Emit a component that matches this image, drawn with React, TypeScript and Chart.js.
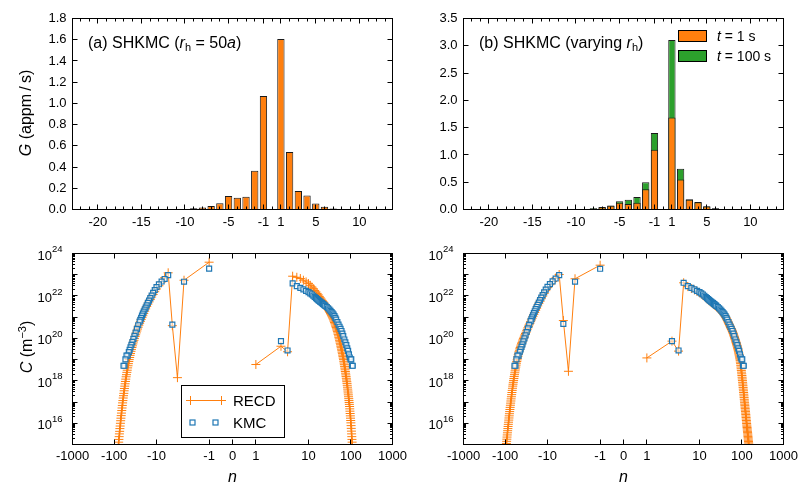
import React, { useEffect, useRef } from 'react';
import { Chart, registerables, LinearScale } from 'chart.js';

Chart.register(...registerables);

const W = 803;
const H = 487;
const FONT = '"Liberation Sans", Arial, Helvetica, sans-serif';
const ORANGE = '#ff7f0e';
const GREEN = '#2ca02c';
const BLUE = '#1f77b4';
const EDGE = '#1a1a1a';

// ================= DATA =================
// --- top panels: generation rate G (appm/s) vs cluster size n
const topXTicks = [-20, -15, -10, -5, -1, 1, 5, 10];
const aYTicks = [0, 0.2, 0.4, 0.6, 0.8, 1.0, 1.2, 1.4, 1.6, 1.8];
const bYTicks = [0, 0.5, 1.0, 1.5, 2.0, 2.5, 3.0, 3.5];

const aBarN = [-11, -10, -9, -8, -7, -6, -5, -4, -3, -2, -1, 1, 2, 3, 4, 5, 6, 7, 8, 9];
const aBarG = [0.002, 0.005, 0.011, 0.02, 0.034, 0.06, 0.128, 0.11, 0.119, 0.366, 1.07, 1.606, 0.542, 0.175, 0.131, 0.056, 0.025, 0.01, 0.004, 0.002];

const bBarN = [-10, -9, -8, -7, -6, -5, -4, -3, -2, -1, 1, 2, 3, 4, 5, 6, 7];
const bBarG1s = [0.004, 0.009, 0.02, 0.04, 0.067, 0.125, 0.103, 0.122, 0.371, 1.096, 1.686, 0.548, 0.18, 0.134, 0.055, 0.02, 0.008];
const bBarG100s = [0.005, 0.011, 0.024, 0.045, 0.073, 0.15, 0.177, 0.231, 0.499, 1.4, 3.104, 0.749, 0.19, 0.138, 0.058, 0.022, 0.009];

// --- bottom panels: concentration C (m^-3), stored as log10(C)
const symTicks = [-1000, -100, -10, -1, 0, 1, 10, 100, 1000];
const logLabelExps = [16, 18, 20, 22, 24];

// (a) RECD: n = -80 ... -6 (consecutive)
const recdA_negStart = -80;
const recdA_neg = [
  14.85, 14.98, 15.11, 15.24, 15.37, 15.5, 15.62, 15.75, 15.87, 16.0,
  16.12, 16.24, 16.36, 16.48, 16.6, 16.72, 16.84, 16.96, 17.07, 17.19,
  17.3, 17.41, 17.53, 17.64, 17.75, 17.86, 17.97, 18.08, 18.19, 18.29,
  18.4, 18.5, 18.61, 18.71, 18.81, 18.91, 19.0, 19.1, 19.2, 19.29,
  19.39, 19.48, 19.57, 19.65, 19.74, 19.83, 19.91, 20.0, 20.09, 20.17,
  20.26, 20.35, 20.44, 20.53, 20.62, 20.71, 20.8, 20.89, 20.98, 21.07,
  21.17, 21.28, 21.39, 21.5, 21.61, 21.72, 21.83, 21.95, 22.07, 22.2,
  22.33, 22.48, 22.66, 22.86, 23.09,
];
const recdA_coreN = [-5, -4, -3, -1, 0, 1, 3, 4];
const recdA_core = [20.6, 18.15, 22.74, 23.59, null, 18.77, 19.63, 19.37];
// n = 5 ... 108
const recdA_posStart = 5;
const recdA_pos = [
  22.93, 22.88, 22.82, 22.74, 22.66, 22.58, 22.5, 22.42, 22.34, 22.26,
  22.19, 22.12, 22.05, 21.98, 21.91, 21.85, 21.79, 21.73, 21.67, 21.62,
  21.57, 21.52, 21.47, 21.42, 21.37, 21.32, 21.27, 21.22, 21.17, 21.12,
  21.07, 21.02, 20.97, 20.92, 20.87, 20.81, 20.75, 20.69, 20.63, 20.57,
  20.51, 20.45, 20.39, 20.33, 20.26, 20.19, 20.12, 20.05, 19.98, 19.91,
  19.84, 19.77, 19.7, 19.63, 19.56, 19.49, 19.42, 19.35, 19.28, 19.21,
  19.14, 19.07, 19.0, 18.92, 18.84, 18.76, 18.68, 18.6, 18.52, 18.44,
  18.36, 18.28, 18.2, 18.12, 18.04, 17.96, 17.88, 17.79, 17.7, 17.61,
  17.52, 17.43, 17.34, 17.25, 17.16, 17.07, 16.98, 16.89, 16.79, 16.68,
  16.57, 16.46, 16.35, 16.24, 16.13, 16.02, 15.89, 15.76, 15.63, 15.5,
  15.37, 15.24, 15.11, 14.98,
];

// (a) KMC
const kmcA_negN = [
  -6, -7, -8, -9, -10, -11, -12, -13, -14, -15, -16, -17, -18, -19, -20,
  -21, -22, -23, -24, -25, -27, -29, -31, -33, -35, -37, -39, -41, -43, -45,
  -48, -51, -54, -57, -60,
];
const kmcA_negLog = [
  22.98, 22.8, 22.68, 22.55, 22.42, 22.28, 22.15, 22.02, 21.9, 21.78, 21.67, 21.56, 21.45, 21.36, 21.26,
  21.17, 21.07, 20.97, 20.87, 20.79, 20.62, 20.45, 20.27, 20.12, 19.98, 19.83, 19.7, 19.58, 19.46, 19.35,
  19.19, 19.19, 19.01, 18.71, 18.71,
];
const kmcA_coreN = [-5, -3, -1, 3, 4];
const kmcA_core = [20.65, 22.67, 23.29, 19.87, 19.43];
const kmcA_posN = [
  5, 6, 7, 8, 9, 10, 11, 12, 13, 14, 15, 16, 17, 18, 19, 20, 21, 22, 23, 24, 25,
  27, 29, 31, 33, 35, 37, 39, 41, 43, 45, 48, 51, 54, 57, 60, 63, 66, 70, 74,
  78, 82, 86, 90, 94, 98, 102, 106, 111,
];
const kmcA_posLog = [
  22.59, 22.46, 22.38, 22.31, 22.24, 22.18, 22.12, 22.07, 22.01, 21.95, 21.9, 21.85, 21.8, 21.76, 21.72, 21.69, 21.66, 21.62, 21.59, 21.56, 21.53,
  21.48, 21.42, 21.36, 21.3, 21.24, 21.18, 21.12, 21.05, 20.97, 20.89, 20.77, 20.65, 20.55, 20.45, 20.35, 20.23, 20.11, 19.95, 19.81,
  19.68, 19.53, 19.41, 19.25, 19.1, 19.01, 19.01, 18.71, 18.71,
];

// (b) RECD: n = -95 ... -6
const recdB_negStart = -95;
const recdB_neg = [
  14.85, 14.95, 15.05, 15.15, 15.25, 15.35, 15.45, 15.55, 15.65, 15.75,
  15.85, 15.95, 16.05, 16.15, 16.25, 16.35, 16.45, 16.55, 16.65, 16.75,
  16.85, 16.95, 17.05, 17.15, 17.25, 17.35, 17.45, 17.55, 17.65, 17.75,
  17.84, 17.93, 18.02, 18.11, 18.2, 18.29, 18.38, 18.47, 18.56, 18.65,
  18.74, 18.83, 18.91, 18.99, 19.07, 19.15, 19.23, 19.3, 19.37, 19.44,
  19.51, 19.57, 19.63, 19.69, 19.75, 19.81, 19.87, 19.93, 19.99, 20.05,
  20.11, 20.17, 20.23, 20.29, 20.36, 20.43, 20.5, 20.57, 20.64, 20.71,
  20.79, 20.87, 20.95, 21.04, 21.13, 21.22, 21.32, 21.42, 21.53, 21.64,
  21.75, 21.87, 21.99, 22.12, 22.25, 22.39, 22.53, 22.68, 22.84, 23.01,
];
const recdB_coreN = [-5, -4, -3, -1, 0, 1, 3, 4];
const recdB_core = [20.84, 18.45, 22.81, 23.45, null, 19.08, 19.87, 19.4];
// n = 5 ... 148
const recdB_posStart = 5;
const recdB_pos = [
  22.62, 22.44, 22.35, 22.28, 22.21, 22.15, 22.09, 22.04, 21.98, 21.92,
  21.87, 21.82, 21.77, 21.73, 21.69, 21.66, 21.63, 21.59, 21.56, 21.53,
  21.5, 21.47, 21.45, 21.42, 21.39, 21.36, 21.33, 21.3, 21.27, 21.24,
  21.21, 21.18, 21.15, 21.12, 21.09, 21.06, 21.02, 20.98, 20.94, 20.9,
  20.86, 20.82, 20.78, 20.74, 20.7, 20.66, 20.62, 20.59, 20.55, 20.52,
  20.48, 20.45, 20.42, 20.39, 20.35, 20.32, 20.28, 20.24, 20.2, 20.16,
  20.12, 20.08, 20.04, 20.0, 19.96, 19.92, 19.88, 19.84, 19.8, 19.76,
  19.72, 19.68, 19.64, 19.6, 19.56, 19.52, 19.47, 19.42, 19.37, 19.32,
  19.27, 19.22, 19.17, 19.12, 19.07, 19.02, 18.95, 18.88, 18.81, 18.73,
  18.65, 18.57, 18.49, 18.41, 18.33, 18.25, 18.17, 18.09, 18.01, 17.93,
  17.85, 17.77, 17.69, 17.61, 17.53, 17.45, 17.37, 17.29, 17.21, 17.13,
  17.05, 16.97, 16.9, 16.83, 16.76, 16.69, 16.62, 16.55, 16.48, 16.41,
  16.34, 16.27, 16.2, 16.13, 16.06, 15.99, 15.92, 15.86, 15.8, 15.74,
  15.68, 15.62, 15.56, 15.5, 15.44, 15.38, 15.32, 15.26, 15.2, 15.14,
  15.08, 15.02, 14.96, 14.9,
];

// (b) KMC
const kmcB_negN = [
  -6, -7, -8, -9, -10, -11, -12, -13, -14, -15, -16, -17, -18, -19, -20,
  -21, -22, -23, -24, -25, -27, -29, -31, -33, -35, -37, -39, -41, -43, -45,
  -48, -51, -54, -57, -60,
];
const kmcB_negLog = [
  22.98, 22.82, 22.69, 22.56, 22.43, 22.3, 22.17, 22.04, 21.92, 21.8, 21.69, 21.58, 21.48, 21.38, 21.28,
  21.19, 21.09, 20.99, 20.9, 20.81, 20.64, 20.47, 20.3, 20.14, 20.0, 19.86, 19.72, 19.6, 19.48, 19.37,
  19.19, 19.19, 19.01, 18.71, 18.71,
];
const kmcB_coreN = [-5, -3, -1, 3, 4];
const kmcB_core = [20.68, 22.67, 23.28, 19.87, 19.43];
const kmcB_posN = [
  5, 6, 7, 8, 9, 10, 11, 12, 13, 14, 15, 16, 17, 18, 19, 20, 21, 22, 23, 24, 25,
  27, 29, 31, 33, 35, 37, 39, 41, 43, 45, 48, 51, 54, 57, 60, 63, 66, 70, 74,
  78, 82, 86, 90, 94, 98, 102, 106, 111,
];
const kmcB_posLog = [
  22.62, 22.46, 22.38, 22.31, 22.24, 22.18, 22.12, 22.07, 22.01, 21.95, 21.9, 21.85, 21.8, 21.76, 21.72, 21.69, 21.66, 21.62, 21.59, 21.56, 21.53,
  21.48, 21.42, 21.36, 21.3, 21.24, 21.18, 21.12, 21.05, 20.97, 20.89, 20.77, 20.65, 20.55, 20.45, 20.35, 20.23, 20.11, 19.95, 19.81,
  19.68, 19.53, 19.41, 19.25, 19.1, 19.01, 19.01, 18.71, 18.71,
];

// ================= HELPERS =================
function toPts(ns: number[], logs: (number | null)[]) {
  return ns.map((n, i) => ({ x: n, y: logs[i] === null ? null : Math.pow(10, logs[i] as number) }));
}
function runPts(start: number, logs: number[]) {
  return logs.map((v, i) => ({ x: start + i, y: Math.pow(10, v) }));
}
function barPts(ns: number[], vals: number[]) {
  return ns.map((n, i) => ({ x: n, y: vals[i] }));
}

// piecewise log axis used by the bottom panels (|n| anchors -> fraction of half width)
const SYM_ABS = [0, 1, 10, 100, 1000];
const SYM_FR = [0, 0.146, 0.475, 0.74, 1];
function symT(v: number): number {
  const a = Math.abs(v);
  const s = v < 0 ? -1 : 1;
  if (a <= 1) return s * a * SYM_FR[1];
  if (a >= 1000) return s * (1 + (Math.log10(a) - 3) * 0.26);
  for (let i = 1; i < 4; i++) {
    if (a <= SYM_ABS[i + 1]) {
      const f = Math.log10(a) - (i - 1);
      return s * (SYM_FR[i] + f * (SYM_FR[i + 1] - SYM_FR[i]));
    }
  }
  return s;
}

class SymScale extends (LinearScale as any) {
  static id = 'symx';
  determineDataLimits() {
    const o: any = (this as any).options;
    (this as any).min = symT(o.min ?? -1000);
    (this as any).max = symT(o.max ?? 1000);
  }
  buildTicks() {
    return symTicks.map((v) => ({ value: v }));
  }
  getPixelForValue(value: any) {
    if (value === null || value === undefined || isNaN(value)) return NaN;
    const self: any = this;
    return self.getPixelForDecimal((symT(value) - self.min) / (self.max - self.min));
  }
  getValueForPixel() {
    return 0;
  }
}
Chart.register(SymScale as any);

const YW = 60;
const XH = 30;

type Area = { l: number; r: number; t: number; b: number };
const AREA_TL: Area = { l: 72.5, r: 392.5, t: 18.5, b: 209.5 };
const AREA_TR: Area = { l: 463.5, r: 783.5, t: 18.5, b: 209.5 };
const AREA_BL: Area = { l: 72.5, r: 392.5, t: 253.5, b: 444.5 };
const AREA_BR: Area = { l: 463.5, r: 783.5, t: 253.5, b: 444.5 };

function layoutFor(a: Area) {
  return {
    padding: { left: a.l - YW, top: a.t, right: W - a.r, bottom: H - a.b - XH },
    autoPadding: false,
  };
}

function fontStr(size: number, italic?: boolean) {
  return `${italic ? 'italic ' : ''}${size}px ${FONT}`;
}
type Part = { t: string; it?: boolean; s?: number; dy?: number };
function richWidth(ctx: CanvasRenderingContext2D, parts: Part[], base: number) {
  let w = 0;
  for (const p of parts) {
    ctx.font = fontStr(p.s ?? base, p.it);
    w += ctx.measureText(p.t).width;
  }
  return w;
}
function drawRich(ctx: CanvasRenderingContext2D, parts: Part[], x: number, y: number, base: number, align: string) {
  const w = richWidth(ctx, parts, base);
  let cx = align === 'center' ? x - w / 2 : align === 'right' ? x - w : x;
  ctx.textAlign = 'left';
  ctx.textBaseline = 'alphabetic';
  for (const p of parts) {
    ctx.font = fontStr(p.s ?? base, p.it);
    ctx.fillText(p.t, cx, y + (p.dy ?? 0));
    cx += ctx.measureText(p.t).width;
  }
}
function drawRichRot(ctx: CanvasRenderingContext2D, parts: Part[], cx: number, cy: number, base: number) {
  ctx.save();
  ctx.translate(cx, cy);
  ctx.rotate(-Math.PI / 2);
  drawRich(ctx, parts, 0, 0, base, 'center');
  ctx.restore();
}

function tickX(ctx: CanvasRenderingContext2D, a: any, px: number, len: number) {
  const x = Math.round(px - 0.5) + 0.5;
  ctx.moveTo(x, a.bottom);
  ctx.lineTo(x, a.bottom - len);
  ctx.moveTo(x, a.top);
  ctx.lineTo(x, a.top + len);
}
function tickY(ctx: CanvasRenderingContext2D, a: any, py: number, len: number) {
  const y = Math.round(py - 0.5) + 0.5;
  ctx.moveTo(a.left, y);
  ctx.lineTo(a.left + len, y);
  ctx.moveTo(a.right, y);
  ctx.lineTo(a.right - len, y);
}

function axisCommon() {
  return {
    grid: { display: false, drawTicks: false },
    border: { display: false },
  };
}

// ================= PANEL CONFIGS =================
function barConfig(panel: 'a' | 'b') {
  const area = panel === 'a' ? AREA_TL : AREA_TR;
  const yTicks = panel === 'a' ? aYTicks : bYTicks;
  const yMax = panel === 'a' ? 1.8 : 3.5;
  const datasets: any[] =
    panel === 'a'
      ? [
          {
            label: 'G',
            data: barPts(aBarN, aBarG),
            backgroundColor: ORANGE,
            borderColor: EDGE,
            borderWidth: 1,
          },
        ]
      : [
          {
            label: 't = 1 s',
            data: barPts(bBarN, bBarG1s),
            backgroundColor: ORANGE,
            borderColor: EDGE,
            borderWidth: 1,
          },
          {
            label: 't = 100 s',
            data: barPts(bBarN, bBarG100s),
            backgroundColor: GREEN,
            borderColor: EDGE,
            borderWidth: 1,
          },
        ];
  datasets.forEach((d) => {
    d.barPercentage = 0.84;
    d.categoryPercentage = 1;
    d.grouped = false;
  });

  const decor = {
    id: 'decor',
    afterDraw(chart: any) {
      const ctx: CanvasRenderingContext2D = chart.ctx;
      const a = chart.chartArea;
      const xs = chart.scales.x;
      const ys = chart.scales.y;
      ctx.save();
      ctx.strokeStyle = '#000';
      ctx.lineWidth = 1;
      ctx.beginPath();
      for (let n = -22; n <= 13; n++) {
        const major = topXTicks.indexOf(n) >= 0;
        tickX(ctx, a, xs.getPixelForValue(n), major ? 5 : 3);
      }
      for (const v of yTicks) tickY(ctx, a, ys.getPixelForValue(v), 5);
      ctx.stroke();
      ctx.strokeRect(a.left, a.top, a.right - a.left, a.bottom - a.top);
      ctx.fillStyle = '#000';
      if (panel === 'a') {
        drawRich(ctx, [{ t: '(a) SHKMC (' }, { t: 'r', it: true }, { t: 'h', s: 11, dy: 3 }, { t: ' = 50' }, { t: 'a', it: true }, { t: ')' }], 88, 48, 16, 'left');
        drawRichRot(ctx, [{ t: 'G', it: true }, { t: ' (appm\u2009/\u2009s)' }], 31, 113, 16);
      } else {
        drawRich(ctx, [{ t: '(b) SHKMC (varying ' }, { t: 'r', it: true }, { t: 'h', s: 11, dy: 3 }, { t: ')' }], 479, 48, 16, 'left');
        // legend
        ctx.fillStyle = ORANGE;
        ctx.fillRect(678.5, 30.5, 28, 11);
        ctx.strokeRect(678.5, 30.5, 28, 11);
        ctx.fillStyle = GREEN;
        ctx.fillRect(678.5, 50.5, 28, 11);
        ctx.strokeRect(678.5, 50.5, 28, 11);
        ctx.fillStyle = '#000';
        drawRich(ctx, [{ t: 't', it: true }, { t: ' = 1 s' }], 717, 41, 14, 'left');
        drawRich(ctx, [{ t: 't', it: true }, { t: ' = 100 s' }], 717, 61, 14, 'left');
      }
      ctx.restore();
    },
  };

  return {
    type: 'bar',
    data: { datasets },
    options: {
      responsive: false,
      animation: false,
      devicePixelRatio: 1,
      layout: layoutFor(area),
      plugins: { legend: { display: false }, tooltip: { enabled: false } },
      scales: {
        x: {
          type: 'linear',
          min: -22.9,
          max: 13.8,
          offset: false,
          afterBuildTicks: (s: any) => {
            s.ticks = topXTicks.map((v) => ({ value: v }));
          },
          afterFit: (s: any) => {
            s.height = XH;
          },
          ...axisCommon(),
          ticks: {
            autoSkip: false,
            maxRotation: 0,
            padding: 5,
            color: '#000',
            font: { family: FONT, size: 13 },
            callback: (v: any) => String(v),
          },
        },
        y: {
          type: 'linear',
          min: 0,
          max: yMax,
          afterBuildTicks: (s: any) => {
            s.ticks = yTicks.map((v) => ({ value: v }));
          },
          afterFit: (s: any) => {
            s.width = YW;
          },
          ...axisCommon(),
          ticks: {
            padding: 6,
            color: '#000',
            font: { family: FONT, size: 13 },
            callback: (v: any) => Number(v).toFixed(1),
          },
        },
      },
    },
    plugins: [decor],
  };
}

function logConfig(panel: 'a' | 'b') {
  const area = panel === 'a' ? AREA_BL : AREA_BR;
  const recd =
    panel === 'a'
      ? [...runPts(recdA_negStart, recdA_neg), ...toPts(recdA_coreN, recdA_core), ...runPts(recdA_posStart, recdA_pos)]
      : [...runPts(recdB_negStart, recdB_neg), ...toPts(recdB_coreN, recdB_core), ...runPts(recdB_posStart, recdB_pos)];
  const kmc =
    panel === 'a'
      ? [...toPts(kmcA_negN, kmcA_negLog), ...toPts(kmcA_coreN, kmcA_core), ...toPts(kmcA_posN, kmcA_posLog)]
      : [...toPts(kmcB_negN, kmcB_negLog), ...toPts(kmcB_coreN, kmcB_core), ...toPts(kmcB_posN, kmcB_posLog)];

  const decor = {
    id: 'decor',
    afterDraw(chart: any) {
      const ctx: CanvasRenderingContext2D = chart.ctx;
      const a = chart.chartArea;
      const xs = chart.scales.x;
      const ys = chart.scales.y;
      ctx.save();
      ctx.strokeStyle = '#000';
      ctx.lineWidth = 1;
      ctx.beginPath();
      for (const v of symTicks) tickX(ctx, a, xs.getPixelForValue(v), 5);
      for (let e = 15; e <= 24; e++) {
        tickY(ctx, a, ys.getPixelForValue(Math.pow(10, e)), 5);
        if (e < 24) for (let m = 2; m <= 9; m++) tickY(ctx, a, ys.getPixelForValue(m * Math.pow(10, e)), 2.5);
      }
      ctx.stroke();
      ctx.strokeRect(a.left, a.top, a.right - a.left, a.bottom - a.top);
      ctx.fillStyle = '#000';
      // log tick labels 10^k
      for (const k of logLabelExps) {
        const y = ys.getPixelForValue(Math.pow(10, k));
        ctx.font = fontStr(9.5);
        const ew = ctx.measureText(String(k)).width;
        const xr = a.left - 10;
        ctx.textAlign = 'right';
        ctx.textBaseline = 'middle';
        ctx.fillText(String(k), xr, y - 4);
        ctx.font = fontStr(13);
        ctx.fillText('10', xr - ew, y + 2.5);
      }
      const cxm = (a.left + a.right) / 2;
      drawRich(ctx, [{ t: 'n', it: true }], cxm, 482, 16, 'center');
      if (panel === 'a') {
        drawRichRot(ctx, [{ t: 'C', it: true }, { t: ' (m' }, { t: '\u22123', s: 11, dy: -6 }, { t: ')' }], 32, 347, 16);
        // legend box
        ctx.strokeRect(181.5, 385.5, 103, 52);
        ctx.strokeStyle = ORANGE;
        ctx.beginPath();
        ctx.moveTo(189, 400.5);
        ctx.lineTo(223, 400.5);
        for (const px of [190.5, 221.5]) {
          ctx.moveTo(px - 4.5, 400.5);
          ctx.lineTo(px + 4.5, 400.5);
          ctx.moveTo(px, 396);
          ctx.lineTo(px, 405);
        }
        ctx.stroke();
        ctx.strokeStyle = BLUE;
        ctx.lineWidth = 1.2;
        for (const px of [192.5, 215.5]) ctx.strokeRect(px - 2.5, 420, 5, 5);
        ctx.fillStyle = '#000';
        drawRich(ctx, [{ t: 'RECD' }], 233, 406, 15, 'left');
        drawRich(ctx, [{ t: 'KMC' }], 233, 428, 15, 'left');
      }
      ctx.restore();
    },
  };

  return {
    type: 'scatter',
    data: {
      datasets: [
        {
          label: 'KMC',
          data: kmc,
          showLine: false,
          pointStyle: 'rect',
          pointRadius: 3.5,
          pointBorderWidth: 1.2,
          pointBorderColor: BLUE,
          pointBackgroundColor: 'rgba(255,255,255,0.6)',
          borderColor: BLUE,
          backgroundColor: 'rgba(0,0,0,0)',
        },
        {
          label: 'RECD',
          data: recd,
          showLine: true,
          spanGaps: false,
          borderColor: ORANGE,
          borderWidth: 1,
          pointStyle: 'cross',
          pointRadius: 4.5,
          pointBorderWidth: 1,
          pointBorderColor: ORANGE,
          pointBackgroundColor: ORANGE,
        },
      ],
    },
    options: {
      responsive: false,
      animation: false,
      devicePixelRatio: 1,
      layout: layoutFor(area),
      plugins: { legend: { display: false }, tooltip: { enabled: false } },
      scales: {
        x: {
          type: 'symx',
          min: -1000,
          max: 1000,
          afterFit: (s: any) => {
            s.height = XH;
          },
          ...axisCommon(),
          ticks: {
            autoSkip: false,
            maxRotation: 0,
            padding: 4,
            color: '#000',
            font: { family: FONT, size: 13 },
            callback: (v: any) => String(v),
          },
        },
        y: {
          type: 'logarithmic',
          min: 1e15,
          max: 1e24,
          afterFit: (s: any) => {
            s.width = YW;
          },
          ...axisCommon(),
          ticks: { display: false },
        },
      },
    },
    plugins: [decor],
  };
}

function Panel({ make }: { make: () => any }) {
  const ref = useRef<HTMLCanvasElement>(null);
  useEffect(() => {
    const chart = new Chart(ref.current as HTMLCanvasElement, make());
    return () => chart.destroy();
  }, []);
  return (
    <canvas
      ref={ref}
      width={W}
      height={H}
      style={{ position: 'absolute', left: 0, top: 0, width: W, height: H }}
    />
  );
}

export default function App() {
  return (
    <div style={{ position: 'absolute', left: 0, top: 0, width: W, height: H, background: '#fff' }}>
      <Panel make={() => barConfig('a')} />
      <Panel make={() => barConfig('b')} />
      <Panel make={() => logConfig('a')} />
      <Panel make={() => logConfig('b')} />
    </div>
  );
}
